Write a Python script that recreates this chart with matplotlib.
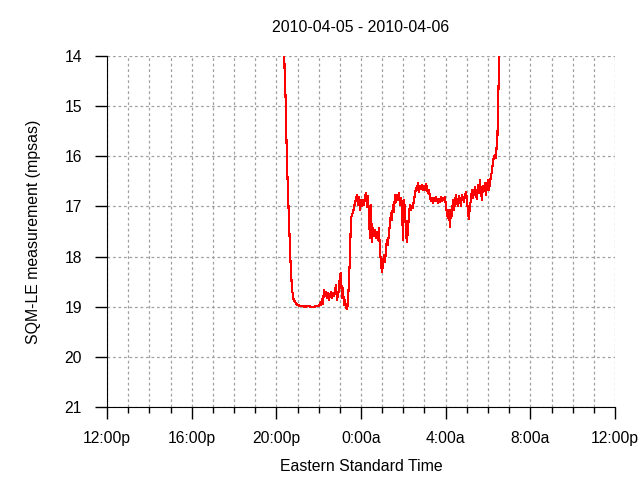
import matplotlib
matplotlib.use("Agg")
import numpy as np
import matplotlib.pyplot as plt
from matplotlib.ticker import MultipleLocator, FuncFormatter

# minutes after 12:00p on 2010-04-05
minutes = [
    501.6, 502.5, 503.6, 507.3, 508.7, 511.0, 514.4, 516.6, 519.5, 521.5,
    523.4, 525.7, 528.0, 531.4, 535.6, 541.3, 547.0, 552.6, 561.1, 569.6,
    578.1, 586.6, 595.1, 600.8, 603.6, 606.5, 609.3, 612.1, 615.0, 617.8,
    620.6, 623.5, 626.3, 629.1, 632.0, 634.8, 637.7, 640.5, 643.3, 646.2,
    649.0, 651.8, 654.7, 657.5, 660.3, 663.2, 666.0, 668.8, 671.7, 674.5,
    677.3, 680.2, 683.0, 685.8, 688.7, 691.5, 694.3, 697.2, 700.0, 702.8,
    705.7, 708.5, 711.3, 714.2, 717.0, 719.8, 722.7, 725.5, 728.3, 731.2,
    734.0, 736.8, 739.7, 742.5, 745.3, 748.2, 751.0, 753.8, 756.7, 759.5,
    762.3, 765.2, 768.0, 770.8, 773.7, 776.5, 779.4, 782.2, 785.0, 787.9,
    790.7, 793.5, 796.4, 799.2, 802.0, 804.9, 807.7, 810.5, 813.4, 816.2,
    819.0, 821.9, 824.7, 827.5, 830.4, 833.2, 836.0, 838.9, 841.7, 844.5,
    847.4, 850.2, 853.0, 855.9, 858.7, 861.5, 864.4, 867.2, 870.0, 872.9,
    875.7, 878.5, 881.4, 884.2, 887.0, 889.9, 892.7, 895.5, 898.4, 901.2,
    904.0, 906.9, 909.7, 912.5, 915.4, 918.2, 921.1, 923.9, 926.7, 929.6,
    932.4, 935.2, 938.1, 940.9, 943.7, 946.6, 949.4, 952.2, 955.1, 957.9,
    960.7, 963.6, 966.4, 969.2, 972.1, 974.9, 977.7, 980.6, 983.4, 986.2,
    989.1, 991.9, 994.7, 997.6, 1000.4, 1003.2, 1006.1, 1008.9, 1011.7, 1014.6,
    1017.4, 1020.2, 1023.1, 1025.9, 1028.7, 1031.6, 1034.4, 1037.2, 1040.1, 1042.9,
    1045.7, 1048.6, 1051.4, 1054.2, 1057.1, 1059.9, 1062.8, 1065.6, 1068.4, 1071.3,
    1074.1, 1076.9, 1079.8, 1082.6, 1085.4, 1088.3, 1091.1, 1093.9, 1096.8, 1099.6,
    1102.4, 1103.8, 1106.7, 1109.0, 1111.8, 1112.4,
]
mpsas = [
    13.68, 14.00, 14.34, 15.04, 15.67, 16.31, 16.97, 17.43, 18.01, 18.27,
    18.53, 18.71, 18.83, 18.89, 18.93, 18.97, 18.98, 18.99, 19.00, 18.99,
    19.00, 19.00, 18.99, 18.99, 18.93, 18.97, 18.85, 18.95, 18.67, 18.79,
    18.71, 18.83, 18.73, 18.87, 18.77, 18.71, 18.83, 18.73, 18.79, 18.67,
    18.57, 18.87, 18.75, 18.67, 18.37, 18.33, 18.83, 18.63, 18.97, 18.87,
    19.01, 19.05, 18.93, 18.47, 18.01, 17.23, 17.17, 17.11, 17.03, 16.93,
    16.87, 16.77, 16.97, 16.81, 17.07, 16.87, 16.99, 16.87, 16.97, 16.81,
    16.73, 17.01, 16.79, 17.17, 17.63, 16.97, 17.71, 17.43, 17.59, 17.47,
    17.63, 17.51, 17.67, 17.43, 17.87, 18.11, 18.31, 18.17, 17.97, 18.11,
    17.87, 17.67, 17.77, 17.51, 17.37, 17.13, 17.27, 16.97, 17.11, 16.77,
    16.91, 16.77, 16.87, 16.73, 16.97, 16.83, 16.93, 17.67, 16.87, 17.03,
    17.51, 17.71, 17.47, 17.17, 16.97, 17.07, 16.99, 17.03, 16.87, 16.77,
    16.63, 16.67, 16.53, 16.71, 16.59, 16.65, 16.57, 16.67, 16.59, 16.67,
    16.55, 16.63, 16.73, 16.67, 16.81, 16.89, 16.83, 16.93, 16.83, 16.89,
    16.81, 16.87, 16.93, 16.85, 16.91, 16.81, 16.89, 16.83, 16.87, 16.81,
    16.99, 17.13, 17.23, 17.07, 17.41, 17.07, 17.19, 16.87, 17.07, 16.93,
    16.77, 16.91, 16.99, 16.79, 16.87, 16.99, 16.77, 16.85, 16.91, 16.79,
    16.71, 16.83, 17.11, 17.25, 16.99, 16.87, 16.67, 16.83, 16.75, 16.61,
    16.77, 16.85, 16.57, 16.73, 16.47, 16.71, 16.87, 16.59, 16.69, 16.53,
    16.77, 16.59, 16.47, 16.67, 16.55, 16.39, 16.31, 16.11, 16.01, 15.97,
    16.03, 15.87, 15.62, 14.84, 14.08, 13.68,
]

title = "2010-04-05 - 2010-04-06"
xlabel = "Eastern Standard Time"
ylabel = "SQM-LE measurement (mpsas)"

plt.rcParams['font.family'] = ['Liberation Sans', 'DejaVu Sans']
plt.rcParams['font.size'] = 11

fig = plt.figure(figsize=(6.4, 4.8), dpi=100)
ax = fig.add_axes([107 / 640, 73 / 480, 508 / 640, 351 / 480])

hours = np.array(minutes) / 60.0
ax.plot(hours, mpsas, color='red', lw=0.8, antialiased=False)

ax.set_xlim(0, 24)
ax.set_ylim(21, 14)


def clock(h, pos):
    c = int(round(12 + h)) % 24
    return f"{c}:00" + ("p" if c >= 12 else "a")


ax.xaxis.set_major_locator(MultipleLocator(4))
ax.xaxis.set_minor_locator(MultipleLocator(1))
ax.xaxis.set_major_formatter(FuncFormatter(clock))
ax.yaxis.set_major_locator(MultipleLocator(1))

ax.grid(True, which='both', axis='x', color='#a0a0a0', linestyle=(0, (2.2, 2.2)), lw=0.9)
ax.grid(True, which='major', axis='y', color='#a0a0a0', linestyle=(0, (2.2, 2.2)), lw=0.9)
ax.set_axisbelow(True)

for s in ['top', 'right']:
    ax.spines[s].set_visible(False)
ax.tick_params(axis='x', which='major', direction='out', length=8.5, width=1, pad=9,
               labelsize=11.3)
ax.tick_params(axis='x', which='minor', direction='out', length=4, width=1)
ax.tick_params(axis='y', which='major', direction='out', length=9, width=1, pad=9,
               labelsize=11.3)

ax.set_title(title, fontsize=11.4, pad=17)
ax.set_xlabel(xlabel, fontsize=11.4, labelpad=9)
ax.set_ylabel(ylabel, fontsize=11.4, labelpad=17)

fig.savefig("out.png", dpi=100)
